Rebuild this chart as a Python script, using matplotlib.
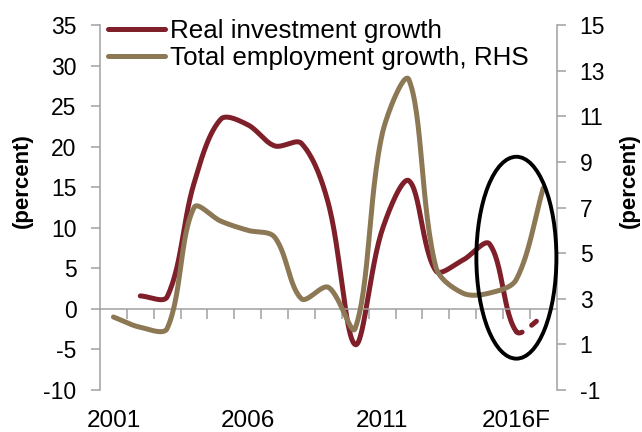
import numpy as np
import matplotlib.pyplot as plt
from matplotlib.patches import Ellipse

plt.rcParams['font.family'] = ['Liberation Sans', 'DejaVu Sans']
plt.rcParams['axes.unicode_minus'] = False

# data (left axis: investment, right axis: employment)
years = [str(y) for y in range(2001, 2016)] + ['2016F', '2017F']
invest = [np.nan, 1.6, 1.5, 15.5, 23.4, 22.7, 20.1, 20.4, 13.0, -4.4, 9.7, 15.8, 4.7, 6.0, 8.0, -2.8, -0.9]
employ = [2.2, 1.75, 1.7, 7.0, 6.4, 6.0, 5.7, 3.0, 3.5, 1.7, 10.2, 12.6, 4.4, 3.25, 3.25, 3.85, 7.85]
shown = ['2001', '2006', '2011', '2016F']

red = '#7f1f29'
tan = '#8c7855'
grey = '#a0a0a0'
lw = 3.6


def smooth(axis, x, y, n=30):
    # excel style smoothed line, bezier per segment worked out in pixel space
    pts = axis.transData.transform(np.column_stack([x, y]))
    P = np.vstack([pts[0], pts, pts[-1]])
    t = np.linspace(0, 1, n)[:, None]
    segs = []
    for i in range(1, len(pts)):
        p0, p1, p2, p3 = P[i - 1], P[i], P[i + 1], P[i + 2]
        d01 = np.hypot(*(p1 - p0))
        d12 = np.hypot(*(p2 - p1))
        d23 = np.hypot(*(p3 - p2))
        c1 = p1 + (p2 - p0) * d12 / (d01 + d12) / 3
        c2 = p2 - (p3 - p1) * d12 / (d12 + d23) / 3
        b = (1 - t) ** 3 * p1 + 3 * (1 - t) ** 2 * t * c1 + 3 * (1 - t) * t ** 2 * c2 + t ** 3 * p2
        segs.append(axis.transData.inverted().transform(b))
    return segs


fig = plt.figure(figsize=(6.42, 4.32), dpi=100)
ax = fig.add_axes([0.1558, 0.0972, 0.7113, 0.8449])
ax2 = ax.twinx()

ax.set_xlim(-0.5, len(years) - 0.5)
ax.set_ylim(-10, 35)
ax.set_yticks(range(-10, 36, 5))
ax2.set_ylim(-1, 15)
ax2.set_yticks(range(-1, 16, 2))

x = np.arange(len(years))
inv = np.array(invest)
ok = ~np.isnan(inv)

# investment: solid up to 2016F, dashed forecast to 2017F
segs = smooth(ax, x[ok], inv[ok])
solid = np.vstack(segs[:-1])
dash = segs[-1]
l1, = ax.plot(solid[:, 0], solid[:, 1], color=red, lw=lw, solid_capstyle='round',
              solid_joinstyle='round')
ax.plot(dash[:, 0], dash[:, 1], color=red, lw=lw, dash_capstyle='round',
        linestyle=(0, (4.5 / lw, 8.5 / lw)))

eseg = np.vstack(smooth(ax2, x, employ))
l2, = ax2.plot(eseg[:, 0], eseg[:, 1], color=tan, lw=lw, solid_capstyle='round',
               solid_joinstyle='round')

for s in ['top', 'right']:
    ax.spines[s].set_visible(False)
for s in ['top', 'left', 'bottom']:
    ax2.spines[s].set_visible(False)
ax.spines['left'].set_color(grey)
ax.spines['bottom'].set_color(grey)
ax.spines['bottom'].set_position(('data', 0))
ax2.spines['right'].set_color(grey)
for sp in [ax.spines['left'], ax.spines['bottom'], ax2.spines['right']]:
    sp.set_linewidth(1.1)

ax.tick_params(axis='y', direction='out', length=6.5, width=1.1, color=grey,
               labelsize=16.5, pad=10.5)
ax2.tick_params(axis='y', direction='out', length=6.5, width=1.1, color=grey,
                labelsize=16.5, pad=10)

ax.set_xticks([years.index(s) for s in shown])
ax.set_xticklabels(shown)
ax.tick_params(axis='x', which='major', length=0, labelsize=17.5, pad=72.5)
ax.set_xticks(np.arange(0.5, len(years) - 1, 1), minor=True)
ax.tick_params(axis='x', which='minor', direction='out', length=7, width=1.1, color=grey)

ax.set_ylabel('(percent)', fontsize=16, fontweight='bold')
ax.yaxis.set_label_coords(-0.147, 0.575)
ax2.set_ylabel('(percent)', fontsize=16, fontweight='bold')
ax2.yaxis.set_label_coords(1.137, 0.575)

ax2.legend([l1, l2], ['Real investment growth', 'Total employment growth, RHS'],
           loc='upper left', bbox_to_anchor=(0.0175, 1.017), frameon=False,
           fontsize=18.7, handlelength=2.2, handletextpad=0.2, labelspacing=0.12,
           borderpad=0, borderaxespad=0)

# circle around the forecast
ax2.add_patch(Ellipse((15.0, 4.8), 2.98, 8.85, fill=False, ec='black', lw=2.8,
                      clip_on=False, zorder=5))

fig.savefig('out.png', dpi=100)
